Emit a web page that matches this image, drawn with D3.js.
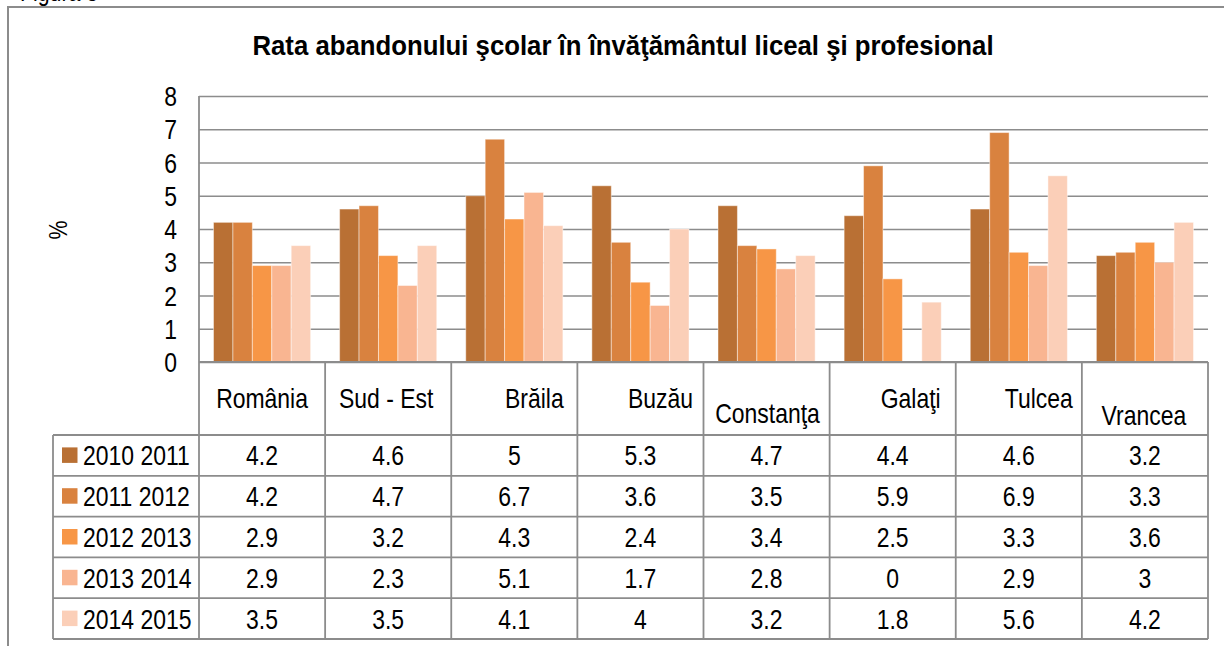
<!DOCTYPE html>
<html>
<head>
<meta charset="utf-8">
<script src="https://cdn.jsdelivr.net/npm/d3@7"></script>
<style>
  body { margin: 0; background: #fff; }
  svg { display: block; }
</style>
</head>
<body>
<svg id="chart" width="1224" height="646"></svg>
<script>
// data
var categories = ['România', 'Sud - Est', 'Brăila', 'Buzău', 'Constanţa', 'Galaţi', 'Tulcea', 'Vrancea'];
var seriesNames = ['2010 2011', '2011 2012', '2012 2013', '2013 2014', '2014 2015'];
var v2010 = [4.2, 4.6, 5, 5.3, 4.7, 4.4, 4.6, 3.2];
var v2011 = [4.2, 4.7, 6.7, 3.6, 3.5, 5.9, 6.9, 3.3];
var v2012 = [2.9, 3.2, 4.3, 2.4, 3.4, 2.5, 3.3, 3.6];
var v2013 = [2.9, 2.3, 5.1, 1.7, 2.8, 0, 2.9, 3];
var v2014 = [3.5, 3.5, 4.1, 4, 3.2, 1.8, 5.6, 4.2];
var yTicks = [0, 1, 2, 3, 4, 5, 6, 7, 8];

var seriesValues = [v2010, v2011, v2012, v2013, v2014];
var colors = ['#B97034', '#D9823F', '#F79646', '#F9B591', '#FBCFB8'];

// header labels sit a bit off-centre in the original table
var headerDx = [0, -2, 20, 20, 1, 18, 20, -1];
var headerBase = [408, 408, 408, 408, 423, 408, 408, 425];

var svg = d3.select('#chart');
var FONT = '"Liberation Sans", Arial, sans-serif';
var SX = 0.82; // narrow look

function txt(parent, x, y, s, opt) {
    opt = opt || {};
    var sx = opt.sx || SX;
    var g = parent.append('g')
        .attr('transform', 'translate(' + x + ',' + y + ')' + (opt.rotate ? ' rotate(' + opt.rotate + ')' : '') + ' scale(' + sx + ',1)');
    g.append('text')
        .attr('x', 0).attr('y', 0)
        .attr('text-anchor', opt.anchor || 'start')
        .style('font-family', FONT)
        .style('font-size', (opt.size || 28) + 'px')
        .style('font-weight', opt.bold ? 'bold' : 'normal')
        .attr('fill', '#000')
        .text(s);
    return g;
}

var gridColor = '#8c8c8c';
var plotL = 199, plotR = 1208, plotT = 96, plotB = 362;

var x0 = d3.scaleBand().domain(categories).range([plotL, plotR]).padding(0);
var x1 = d3.scaleBand().domain(seriesNames).range([14.5, x0.bandwidth() - 14.5]).padding(0);
var y = d3.scaleLinear().domain([0, 8]).range([plotB, plotT]);
var rowY = d3.scaleBand().domain(seriesNames).range([435, 639]).padding(0);

// frame fragment (cut by the page top, as in the scan) + outer border
txt(svg, 20, 1, 'Figura 3', {size: 26});
svg.append('path')
    .attr('d', 'M8,646 L8,7 L1224,7')
    .attr('fill', 'none').attr('stroke', '#8c8c8c').attr('stroke-width', 2);

// title
txt(svg, 623, 55, 'Rata abandonului şcolar în învăţământul liceal şi profesional', {bold: true, anchor: 'middle', size: 28, sx: 0.92});

// gridlines
svg.append('g')
    .attr('transform', 'translate(' + plotL + ',0)')
    .call(d3.axisLeft(y).tickValues(yTicks).tickSize(-(plotR - plotL)).tickFormat(''))
    .call(function(g) {
        g.select('.domain').remove();
        g.selectAll('line').attr('stroke', gridColor).attr('stroke-width', 1.6);
    });
svg.append('line')
    .attr('x1', plotL).attr('x2', plotL).attr('y1', plotT).attr('y2', plotB)
    .attr('stroke', gridColor).attr('stroke-width', 1.8);

// y labels
yTicks.forEach(function(t) {
    txt(svg, 177, y(t) + 10, String(t), {anchor: 'end'});
});
txt(svg, 67, 230, '%', {rotate: -90, anchor: 'middle', size: 26});

// bars
var groups = svg.append('g').selectAll('g')
    .data(categories)
    .join('g')
    .attr('transform', function(d) { return 'translate(' + x0(d) + ',0)'; });

groups.selectAll('rect')
    .data(function(c, ci) {
        return seriesNames.map(function(s, si) { return {s: s, si: si, v: seriesValues[si][ci]}; });
    })
    .join('rect')
    .attr('x', function(d) { return x1(d.s); })
    .attr('width', x1.bandwidth())
    .attr('y', function(d) { return y(d.v); })
    .attr('height', function(d) { return y(0) - y(d.v); })
    .attr('fill', function(d) { return colors[d.si]; })
    .attr('stroke', 'rgba(255,255,255,0.45)')
    .attr('stroke-width', 1);

// table lines
var tl = svg.append('g').attr('stroke', gridColor).attr('stroke-width', 1.8).attr('fill', 'none');
tl.append('line').attr('x1', plotL).attr('x2', plotR).attr('y1', plotB).attr('y2', plotB);
x0.domain().forEach(function(c) {
    tl.append('line').attr('x1', x0(c)).attr('x2', x0(c)).attr('y1', plotB).attr('y2', 639);
});
tl.append('line').attr('x1', plotR).attr('x2', plotR).attr('y1', plotB).attr('y2', 639);
tl.append('line').attr('x1', 53).attr('x2', 53).attr('y1', 435).attr('y2', 639);
seriesNames.forEach(function(s) {
    tl.append('line').attr('x1', 53).attr('x2', plotR).attr('y1', rowY(s)).attr('y2', rowY(s));
});
tl.append('line').attr('x1', 53).attr('x2', plotR).attr('y1', 639).attr('y2', 639);

// header labels
categories.forEach(function(c, i) {
    txt(svg, x0(c) + x0.bandwidth() / 2 + headerDx[i], headerBase[i], c, {anchor: 'middle'});
});

// legend + values
seriesNames.forEach(function(s, si) {
    var cy = rowY(s) + rowY.bandwidth() / 2;
    svg.append('rect')
        .attr('x', 62).attr('y', cy - 8)
        .attr('width', 15.5).attr('height', 15.5)
        .attr('fill', colors[si]);
    txt(svg, 83, cy + 10, s);
    categories.forEach(function(c, ci) {
        txt(svg, x0(c) + x0.bandwidth() / 2, cy + 10, String(seriesValues[si][ci]), {anchor: 'middle'});
    });
});
</script>
</body>
</html>
